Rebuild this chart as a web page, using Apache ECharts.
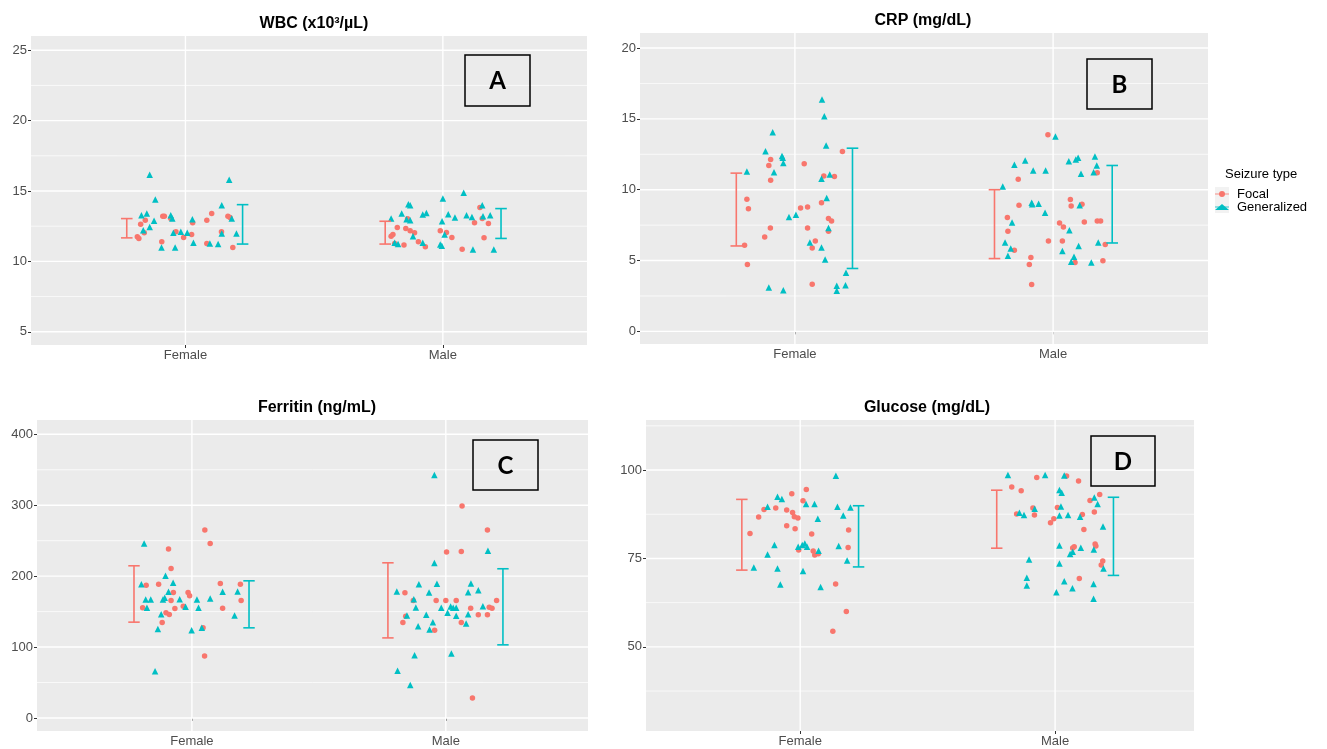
<!DOCTYPE html>
<html>
<head>
<meta charset="utf-8">
<script src="https://cdn.jsdelivr.net/npm/echarts@6/dist/echarts.min.js"></script>
<style>html,body{margin:0;padding:0;background:#fff}#c{width:1327px;height:749px}</style>
</head>
<body>
<div id="c"></div>
<script>
// ---------------- DATA ----------------
const categories = ['Female', 'Male'];
const seriesNames = ['Focal', 'Generalized'];

// tick labels
const wbcTicks = [5, 10, 15, 20, 25];
const wbcMinor = [7.5, 12.5, 17.5, 22.5];
const crpTicks = [0, 5, 10, 15, 20];
const crpMinor = [2.5, 7.5, 12.5, 17.5];
const ferTicks = [0, 100, 200, 300, 400];
const ferMinor = [50, 150, 250, 350];
const gluTicks = [50, 75, 100];
const gluMinor = [37.5, 62.5, 87.5, 112.5];

// points: [jittered category position (1 = Female, 2 = Male), value]
const wbcFocal = [
  [0.813,11.75],[0.819,11.63],[0.826,12.64],[0.844,12.92],[0.840,12.03],[0.912,13.21],[0.918,13.21],
  [0.943,13.04],[0.908,11.39],[0.963,12.10],[0.993,11.70],[1.024,11.91],[1.028,12.74],[1.083,12.92],
  [1.102,13.40],[1.083,11.27],[1.140,12.10],[1.165,13.21],[1.173,13.11],[1.184,10.99],
  [1.799,11.79],[1.806,11.91],[1.813,11.27],[1.823,12.41],[1.849,11.16],[1.863,13.02],[1.856,12.33],
  [1.873,12.17],[1.890,12.03],[1.905,11.39],[1.932,11.04],[1.990,12.17],[2.014,12.05],[2.035,11.70],
  [2.075,10.87],[2.123,12.74],[2.144,13.82],[2.153,13.04],[2.160,11.67],[2.177,12.69]
];
const wbcGeneralized = [
  [0.861,16.16],[0.883,14.39],[0.829,13.28],[0.850,13.40],[0.878,12.88],[0.861,12.45],[0.836,12.22],
  [0.943,13.28],[0.949,13.04],[0.907,10.99],[0.960,10.99],[0.953,12.03],[0.982,12.10],[1.007,12.03],
  [1.027,12.99],[1.031,11.32],[1.095,11.27],[1.127,11.23],[1.141,13.99],[1.141,11.98],[1.170,15.80],
  [1.180,13.04],[1.198,11.98],
  [1.799,13.04],[1.813,11.32],[1.826,11.23],[1.840,13.40],[1.866,14.06],[1.873,13.99],[1.859,13.00],
  [1.873,12.92],[1.884,11.79],[1.922,11.32],[1.922,13.33],[1.936,13.44],[2.000,14.46],[1.997,12.85],
  [1.990,11.20],[1.996,11.11],[2.007,11.91],[2.021,13.35],[2.047,13.11],[2.081,14.88],[2.092,13.28],
  [2.113,13.16],[2.117,10.85],[2.153,13.99],[2.156,13.21],[2.184,13.28],[2.198,10.85]
];
// error bars: [position, low, high]
const wbcFocalBars = [[0.772,11.67,13.04],[1.776,11.23,12.85]];
const wbcGeneralizedBars = [[1.222,11.23,14.03],[2.226,11.63,13.75]];

const crpFocal = [
  [0.814,9.32],[0.820,8.66],[0.805,6.08],[0.816,4.72],[0.899,11.71],[0.906,12.14],[0.906,10.66],
  [0.883,6.67],[0.905,7.30],[1.036,11.83],[1.022,8.71],[1.049,8.78],[1.049,7.30],[1.067,5.89],
  [1.079,6.38],[1.067,3.33],[1.103,9.08],[1.112,10.96],[1.153,10.94],[1.130,7.96],[1.142,7.79],
  [1.130,7.07],[1.184,12.70],
  [1.823,8.03],[1.825,7.07],[1.850,5.73],[1.865,10.73],[1.868,8.90],[1.914,5.21],[1.908,4.72],
  [1.917,3.31],[1.980,13.87],[1.982,6.38],[2.025,7.65],[2.040,7.37],[2.036,6.38],[2.067,9.30],
  [2.070,8.85],[2.112,8.97],[2.085,4.86],[2.121,7.72],[2.171,7.79],[2.184,7.79],[2.171,11.20],
  [2.202,6.13],[2.193,4.98]
];
const crpGeneralized = [
  [0.814,11.29],[0.886,12.72],[0.914,14.06],[0.919,11.24],[0.950,12.37],[0.953,12.25],[0.955,11.88],
  [0.977,8.08],[1.004,8.24],[0.899,3.10],[0.955,2.91],[1.105,16.36],[1.114,15.19],[1.121,13.12],
  [1.103,10.77],[1.135,11.08],[1.123,9.41],[1.130,7.30],[1.058,6.27],[1.103,5.92],[1.117,5.07],
  [1.162,3.22],[1.162,2.86],[1.196,3.26],[1.198,4.13],
  [1.805,10.23],[1.814,6.27],[1.836,5.85],[1.825,5.33],[1.841,7.68],[1.850,11.76],[1.892,12.07],
  [1.923,11.36],[1.917,9.08],[1.919,8.97],[1.944,9.01],[1.971,11.36],[1.969,8.38],[2.009,13.76],
  [2.036,5.68],[2.061,12.00],[2.063,7.14],[2.088,12.14],[2.097,12.25],[2.108,11.13],[2.099,6.03],
  [2.081,5.26],[2.070,4.91],[2.103,8.90],[2.148,4.86],[2.157,11.24],[2.162,12.35],[2.169,11.71],
  [2.175,6.27]
];
const crpFocalBars = [[0.773,6.03,11.17],[1.773,5.14,10.0]];
const crpGeneralizedBars = [[1.223,4.44,12.93],[2.229,6.24,11.71]];

const ferFocal = [
  [0.806,155.3],[0.820,187.3],[0.869,188.7],[0.908,238.1],[0.918,210.8],[0.927,176.9],[0.918,165.6],
  [0.933,154.4],[0.898,148.2],[0.911,145.9],[0.883,134.6],[0.966,157.6],[0.985,176.9],[0.991,172.2],
  [1.044,127.1],[1.051,264.9],[1.072,246.1],[1.050,87.5],[1.112,189.6],[1.121,154.8],[1.191,188.7],
  [1.194,165.6],
  [1.839,176.5],[1.842,143.5],[1.831,134.6],[1.872,165.6],[1.956,123.8],[1.962,165.6],[2.003,233.9],
  [2.000,165.6],[2.041,165.6],[2.061,234.8],[2.064,298.8],[2.061,134.6],[2.098,154.8],[2.105,28.2],
  [2.128,145.4],[2.164,264.9],[2.164,145.4],[2.171,156.2],[2.182,154.8],[2.200,165.6]
];
const ferGeneralized = [
  [0.801,188.7],[0.812,246.1],[0.818,167.1],[0.823,155.3],[0.838,167.1],[0.855,65.9],[0.866,125.6],
  [0.879,146.4],[0.886,167.1],[0.893,169.4],[0.896,200.5],[0.908,177.9],[0.926,190.6],[0.952,167.5],
  [0.975,156.7],[0.999,123.8],[1.020,167.1],[1.026,155.3],[1.039,127.1],[1.072,168.5],[1.121,177.9],
  [1.168,144.5],[1.180,178.4],
  [1.807,178.4],[1.810,66.4],[1.847,144.5],[1.860,46.6],[1.874,167.5],[1.877,88.5],[1.882,155.8],
  [1.891,129.4],[1.894,188.7],[1.923,145.4],[1.934,176.9],[1.936,124.7],[1.949,135.1],[1.955,218.4],
  [1.955,342.6],[1.965,189.2],[1.982,155.3],[2.007,148.2],[2.019,157.2],[2.022,90.8],[2.029,155.3],
  [2.041,155.3],[2.041,144.0],[2.080,133.2],[2.088,146.4],[2.088,177.4],[2.099,189.6],[2.128,180.2],
  [2.146,157.6],[2.166,235.8]
];
const ferFocalBars = [[0.772,135.1,214.6],[1.772,112.9,218.8]];
const ferGeneralizedBars = [[1.225,127.1,193.4],[2.225,103.1,210.4]];

const gluFocal = [
  [0.803,82.08],[0.837,86.70],[0.858,88.87],[0.904,89.25],[0.947,88.68],[0.967,93.30],[0.970,88.02],
  [0.977,86.79],[0.991,86.42],[0.947,84.25],[0.980,83.40],[1.011,91.32],[1.024,94.53],[0.994,77.36],
  [1.045,81.89],[1.051,77.08],[1.057,75.94],[1.071,76.32],[1.139,67.74],[1.128,54.43],[1.181,60.00],
  [1.190,83.02],[1.188,78.11],
  [1.830,95.19],[1.867,94.15],[1.849,87.55],[1.913,89.25],[1.919,87.26],[1.928,97.92],[1.982,85.09],
  [1.995,86.23],[2.009,89.43],[2.045,98.30],[2.069,77.92],[2.075,78.30],[2.092,96.89],[2.095,69.34],
  [2.107,87.45],[2.113,83.21],[2.137,91.42],[2.154,88.11],[2.157,79.06],[2.160,78.49],[2.175,93.11],
  [2.181,73.11],[2.187,74.25]
];
const gluGeneralized = [
  [0.818,72.45],[0.872,76.13],[0.872,89.62],[0.899,78.77],[0.911,72.17],[0.911,92.45],[0.928,91.79],
  [0.922,67.64],[0.992,78.30],[1.008,78.77],[1.018,79.25],[1.027,78.30],[1.023,90.38],[1.056,90.38],
  [1.011,71.42],[1.069,86.23],[1.072,77.17],[1.080,66.89],[1.140,98.40],[1.146,89.62],[1.151,78.49],
  [1.169,87.17],[1.184,74.43],[1.197,89.43],
  [1.815,98.58],[1.860,87.92],[1.878,87.26],[1.898,74.72],[1.889,69.53],[1.889,67.36],[1.920,89.06],
  [1.961,98.58],[2.005,65.47],[2.017,94.34],[2.026,93.58],[2.023,89.72],[2.017,87.17],[2.017,78.68],
  [2.017,73.58],[2.036,98.49],[2.036,68.58],[2.051,87.26],[2.059,76.23],[2.069,76.89],[2.068,66.60],
  [2.098,86.79],[2.101,78.02],[2.151,67.74],[2.151,63.58],[2.152,77.55],[2.154,92.26],[2.167,90.38],
  [2.188,84.06],[2.190,72.17]
];
const gluFocalBars = [[0.771,71.7,91.7],[1.771,77.9,94.3]];
const gluGeneralizedBars = [[1.229,72.6,89.9],[2.229,70.2,92.3]];

// ---------------- LAYOUT / STYLE ----------------
const FONT = '"Liberation Sans", Arial, sans-serif';
const COLORS = ['#F8766D', '#00BFC4'];
const panels = [
  { title: 'WBC (x10\u00B3/\u00B5L)', tag: 'A', grid: {left: 31, top: 36, width: 556, height: 309},
    x: [0.4, 2.56], y: [4.06, 26.01], ticks: wbcTicks, minor: wbcMinor,
    pts: [wbcFocal, wbcGeneralized], bars: [wbcFocalBars, wbcGeneralizedBars],
    titlePos: [314, 24], box: [465, 55, 65, 51] },
  { title: 'CRP (mg/dL)', tag: 'B', grid: {left: 640, top: 33, width: 568, height: 311},
    x: [0.4, 2.6], y: [-0.89, 21.06], ticks: crpTicks, minor: crpMinor,
    pts: [crpFocal, crpGeneralized], bars: [crpFocalBars, crpGeneralizedBars],
    titlePos: [923, 21], box: [1087, 59, 65, 50] },
  { title: 'Ferritin (ng/mL)', tag: 'C', grid: {left: 37, top: 420, width: 551, height: 311},
    x: [0.39, 2.56], y: [-18.4, 420.2], ticks: ferTicks, minor: ferMinor,
    pts: [ferFocal, ferGeneralized], bars: [ferFocalBars, ferGeneralizedBars],
    titlePos: [317, 408], box: [473, 440, 65, 50] },
  { title: 'Glucose (mg/dL)', tag: 'D', grid: {left: 646, top: 420, width: 548, height: 311},
    x: [0.395, 2.545], y: [26.2, 114.15], ticks: gluTicks, minor: gluMinor,
    pts: [gluFocal, gluGeneralized], bars: [gluFocalBars, gluGeneralizedBars],
    titlePos: [927, 408], box: [1091, 436, 64, 50] }
];

const grids = [], xAxes = [], yAxes = [], series = [], graphics = [];

panels.forEach((p, i) => {
  grids.push(Object.assign({show: true, backgroundColor: '#EBEBEB', borderWidth: 0, containLabel: false}, p.grid));
  xAxes.push({
    type: 'value', gridIndex: i, min: p.x[0], max: p.x[1],
    axisLine: {show: false}, splitLine: {show: false},
    axisTick: {show: true, length: 3, lineStyle: {color: '#333333', width: 1}, customValues: [1, 2]},
    axisLabel: {customValues: [1, 2], margin: 4, color: '#4D4D4D', fontSize: 13, fontFamily: FONT,
      formatter: v => categories[Math.round(v) - 1]}
  });
  yAxes.push({
    type: 'value', gridIndex: i, min: p.y[0], max: p.y[1],
    axisLine: {show: false}, splitLine: {show: false},
    axisTick: {show: true, length: 3, lineStyle: {color: '#333333', width: 1}, customValues: p.ticks},
    axisLabel: {customValues: p.ticks, margin: 4, color: '#4D4D4D', fontSize: 13, fontFamily: FONT}
  });
  // gridlines: [value, major(1)/minor(0), horizontal(0)/vertical(1)]
  const gl = [];
  p.minor.forEach(v => gl.push([v, 0, 0]));
  p.ticks.forEach(v => gl.push([v, 1, 0]));
  [1, 2].forEach(v => gl.push([v, 1, 1]));
  series.push({
    type: 'custom', name: 'grid' + i, xAxisIndex: i, yAxisIndex: i, silent: true, z: 1,
    data: gl,
    renderItem: (params, api) => {
      const cs = params.coordSys;
      const v = api.value(0), major = api.value(1), vert = api.value(2);
      let shape;
      if (vert) {
        const x = api.coord([v, p.y[0]])[0];
        shape = {x1: x, y1: cs.y, x2: x, y2: cs.y + cs.height};
      } else {
        const y = api.coord([1, v])[1];
        shape = {x1: cs.x, y1: y, x2: cs.x + cs.width, y2: y};
      }
      return {type: 'line', shape, style: {stroke: '#FFFFFF', lineWidth: major ? 1.4 : 0.7}};
    }
  });
  [0, 1].forEach(k => {
    series.push({
      type: 'scatter', name: seriesNames[k], xAxisIndex: i, yAxisIndex: i, z: 3,
      symbol: k === 0 ? 'circle' : 'triangle', symbolSize: k === 0 ? 5.5 : 6.5,
      itemStyle: {color: COLORS[k], opacity: 1}, data: p.pts[k], emphasis: {disabled: true}
    });
  });
  [0, 1].forEach(k => {
    series.push({
      type: 'custom', name: seriesNames[k] + ' bar', xAxisIndex: i, yAxisIndex: i, z: 4,
      itemStyle: {color: COLORS[k]}, data: p.bars[k],
      renderItem: (params, api) => {
        const x = api.value(0), lo = api.value(1), hi = api.value(2);
        const a = api.coord([x, lo]), b = api.coord([x, hi]);
        const half = api.size([0.045, 0])[0] / 2;
        const st = {stroke: COLORS[k], lineWidth: 1.6};
        return {type: 'group', children: [
          {type: 'line', shape: {x1: a[0], y1: a[1], x2: b[0], y2: b[1]}, style: st},
          {type: 'line', shape: {x1: a[0] - half, y1: a[1], x2: a[0] + half, y2: a[1]}, style: st},
          {type: 'line', shape: {x1: b[0] - half, y1: b[1], x2: b[0] + half, y2: b[1]}, style: st}
        ]};
      }
    });
  });
  graphics.push({
    type: 'text', x: p.titlePos[0], y: p.titlePos[1], z: 10,
    style: {text: p.title, textAlign: 'center', textVerticalAlign: 'middle',
      font: 'bold 16px ' + FONT, fill: '#000'}
  });
  graphics.push({
    type: 'rect', z: 10, shape: {x: p.box[0], y: p.box[1], width: p.box[2], height: p.box[3]},
    style: {fill: 'rgba(0,0,0,0)', stroke: '#000', lineWidth: 1.5}
  });
  graphics.push({
    type: 'text', z: 11, x: p.box[0] + p.box[2] / 2, y: p.box[1] + p.box[3] / 2 + 1,
    style: {text: p.tag, textAlign: 'center', textVerticalAlign: 'middle',
      font: 'bold 24px Lato, "Open Sans", sans-serif', fill: '#000'}
  });
});

// legend title and key backgrounds
graphics.push({type: 'text', x: 1225, y: 174, style: {text: 'Seizure type', textVerticalAlign: 'middle',
  font: '13px ' + FONT, fill: '#000'}});
graphics.push({type: 'rect', z: 0, shape: {x: 1215, y: 187, width: 14, height: 26}, style: {fill: '#F2F2F2'}});
graphics.push({type: 'line', z: 1, shape: {x1: 1215, y1: 194, x2: 1229, y2: 194}, style: {stroke: COLORS[0], lineWidth: 1, opacity: 0.8}});
graphics.push({type: 'line', z: 1, shape: {x1: 1215, y1: 207, x2: 1229, y2: 207}, style: {stroke: COLORS[1], lineWidth: 1, opacity: 0.8}});

const chart = echarts.init(document.getElementById('c'), null, {renderer: 'canvas'});
chart.setOption({
  backgroundColor: '#FFFFFF',
  animation: false,
  grid: grids, xAxis: xAxes, yAxis: yAxes, series: series,
  legend: {
    data: seriesNames, orient: 'vertical', left: 1215, top: 187.5, padding: 0,
    itemWidth: 14, itemHeight: 6, itemGap: 0, selectedMode: false, z: 5,
    textStyle: {fontSize: 13, color: '#000', fontFamily: FONT, lineHeight: 13, padding: [0, 0, 0, 3]}
  },
  graphic: graphics
});
</script>
</body>
</html>
